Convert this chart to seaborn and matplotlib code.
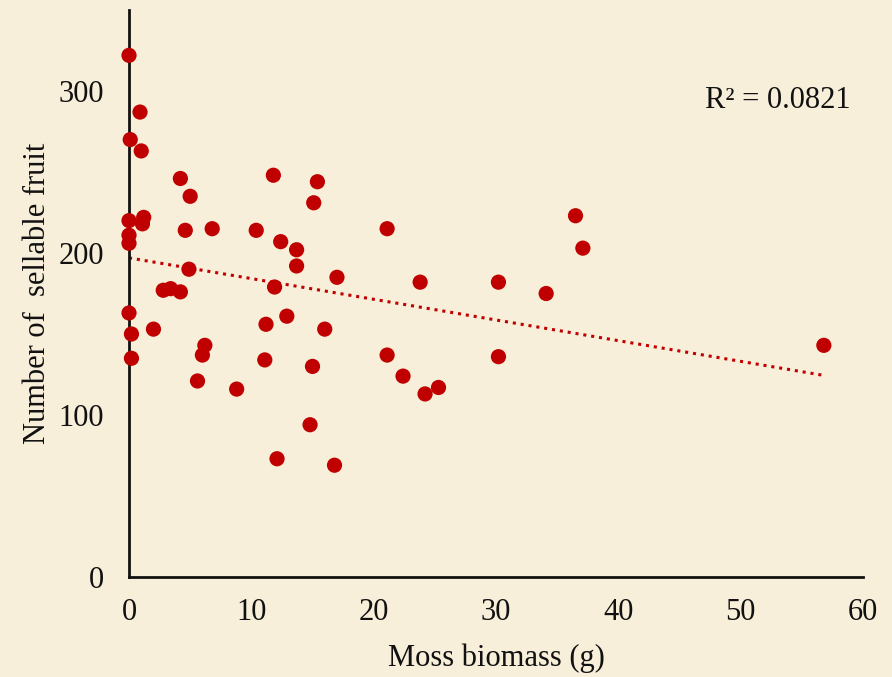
import numpy as np
import pandas as pd
import matplotlib
matplotlib.use("Agg")
import matplotlib.pyplot as plt
import seaborn as sns

moss_biomass = [0, 0.9, 0.1, 1.0, 0, 1.2, 1.1, 0, 0, 0, 0.2, 0.2, 2.0, 2.8, 3.4, 4.2,
                4.2, 5.0, 4.6, 4.9, 6.8, 6.2, 6.0, 5.6, 8.8, 10.4, 11.8, 15.4, 15.1,
                21.1, 12.4, 13.7, 13.7, 17.0, 23.8, 11.9, 11.2, 12.9, 16.0, 11.1, 15.0,
                21.1, 22.4, 24.2, 25.3, 14.8, 12.1, 16.8, 30.2, 30.2, 34.1, 36.5, 37.1, 56.8]
sellable_fruit = [322, 287, 270, 263, 220, 222, 218, 211, 206, 163, 150, 135, 153, 177, 178, 176,
                  246, 235, 214, 190, 215, 143, 137, 121, 116, 214, 248, 244, 231,
                  215, 207, 202, 192, 185, 182, 179, 156, 161, 153, 134, 130,
                  137, 124, 113, 117, 94, 73, 69, 182, 136, 175, 223, 203, 143]
r2_label = "R\u00b2 = 0.0821"
x_ticks = [0, 10, 20, 30, 40, 50, 60]
y_ticks = [0, 100, 200, 300]

df = pd.DataFrame({"moss": moss_biomass, "fruit": sellable_fruit})

bg = "#F8EFDA"
red = "#C00000"
ink = "#111111"
sns.set_theme(style="white")
plt.rcParams["font.family"] = ["Liberation Serif", "DejaVu Serif"]

fig = plt.figure(figsize=(8.92, 6.77), dpi=100, facecolor=bg)
ax = fig.add_axes([129/892, 100/677, (863-129)/892, (577-10)/677])
ax.set_facecolor(bg)

sns.scatterplot(data=df, x="moss", y="fruit", ax=ax, color=red, s=120,
                edgecolor="none", zorder=3, clip_on=False)

# linear trendline
slope, intercept = np.polyfit(df["moss"], df["fruit"], 1)
xs = np.array([0, df["moss"].max()])
ax.plot(xs, intercept + slope * xs, color=red, linestyle=(0, (1, 1.6)),
        linewidth=2.2, zorder=2)

ax.set_xlim(0, 60)
ax.set_ylim(0, 350)
ax.set_xticks(x_ticks)
ax.set_yticks(y_ticks)
ax.tick_params(axis="both", length=0, labelsize=22, colors=ink)
ax.tick_params(axis="y", pad=18)
ax.tick_params(axis="x", pad=15)
for side in ["top", "right"]:
    ax.spines[side].set_visible(False)
for side in ["left", "bottom"]:
    ax.spines[side].set_color(ink)
    ax.spines[side].set_linewidth(2)
ax.set_xlabel("Moss biomass (g)", fontsize=22, color=ink, labelpad=12)
ax.set_ylabel("Number of  sellable fruit", fontsize=22, color=ink, labelpad=5)
ax.text(851/892, 1 - 100/677, r2_label, transform=fig.transFigure, ha="right", va="center",
        fontsize=22, color=ink)

fig.savefig("out.png", dpi=100, facecolor=bg)
